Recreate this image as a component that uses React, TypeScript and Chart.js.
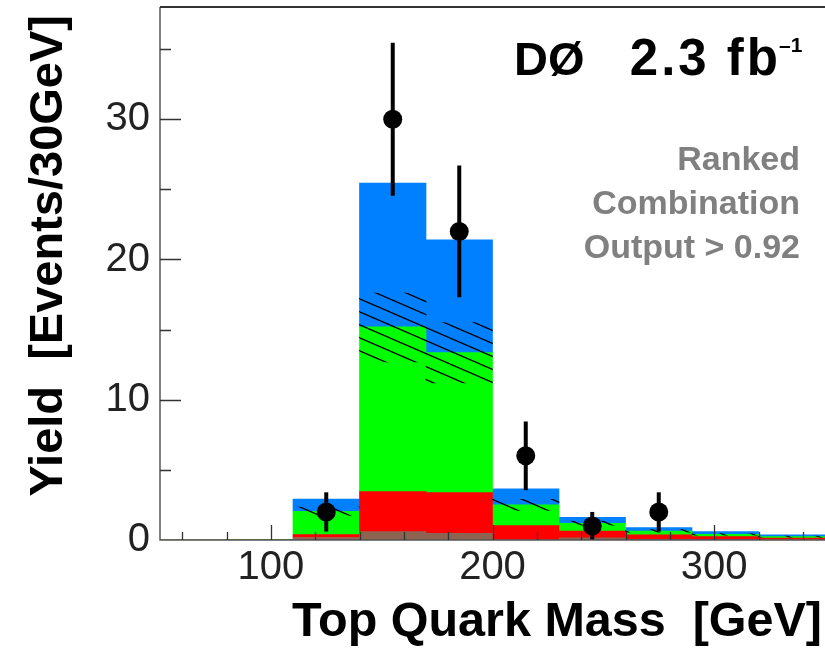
import React, { useEffect, useRef } from 'react';
import { Chart, registerables } from 'chart.js';

Chart.register(...registerables);

// Bin centres (30 GeV bins from 50 to 350 GeV)
const binCenters = [65, 95, 125, 155, 185, 215, 245, 275, 305, 335];
// Stacked components (per-layer heights), bottom to top
const otherBkg = [0, 0, 0.18, 0.6, 0.47, 0, 0.15, 0.04, 0.02, 0.01]; // brown
const wjetsBkg = [0, 0, 0.2, 2.85, 2.91, 1.02, 0.49, 0.32, 0.22, 0.13]; // red
const ttbarBkg = [0, 0.05, 1.67, 11.75, 9.98, 1.48, 0.55, 0.28, 0.16, 0.1]; // green
const signalMC = [0, 0, 0.87, 10.24, 8.04, 1.15, 0.43, 0.24, 0.2, 0.12]; // blue
// Hatched uncertainty band on the background sum
const bandCenters = [125, 155, 185, 215, 245, 275, 305, 335];
const bandLow = [1.75, 12.7, 11.2, 2.1, 1.05, 0.55, 0.35, 0.2];
const bandHigh = [2.35, 17.6, 15.5, 2.9, 1.35, 0.75, 0.45, 0.28];
// Observed data
const dataX = [125, 155, 185, 215, 245, 275];
const dataY = [2, 30, 22, 6, 1, 2];
const dataErrUp = [1.4, 5.45, 4.7, 2.45, 1.0, 1.4];
const dataErrDown = [1.4, 5.45, 4.7, 2.45, 1.0, 1.4];
// Axis ticks
const xMajorTicks = [100, 200, 300];
const xMinorTicks = [60, 80, 120, 140, 160, 180, 220, 240, 260, 280, 320, 340];
const yMajorTicks = [0, 10, 20, 30];
const yMinorTicks = [5, 15, 25, 35];

const FONT = "'Liberation Sans', Arial, Helvetica, sans-serif";

export default function App() {
  const ref = useRef<HTMLCanvasElement>(null);

  useEffect(() => {
    const canvas = ref.current!;
    const ctx = canvas.getContext('2d')!;

    // hatch pattern
    const pc = document.createElement('canvas');
    pc.width = 30;
    pc.height = 13;
    const g = pc.getContext('2d')!;
    g.strokeStyle = '#000';
    g.lineWidth = 1.3;
    for (const dy of [-13, 0, 13]) {
      g.beginPath();
      g.moveTo(0, dy);
      g.lineTo(30, dy + 13);
      g.stroke();
    }
    const pattern = ctx.createPattern(pc, 'repeat');

    const toXY = (vals: number[]) => binCenters.map((x, i) => ({ x, y: vals[i] }));
    const barCommon: any = {
      type: 'bar',
      stack: 'mc',
      grouped: false,
      barPercentage: 1,
      categoryPercentage: 1,
      borderWidth: 0,
      order: 2,
    };

    const framePlugin = {
      id: 'frame',
      afterDatasetsDraw(chart: any) {
        const c = chart.ctx;
        const { left, right, top, bottom } = chart.chartArea;
        const xs = chart.scales.x;
        const ys = chart.scales.y;
        c.save();
        // error bars
        c.beginPath();
        c.rect(left, top, right - left, bottom - top);
        c.clip();
        c.strokeStyle = '#000';
        c.lineWidth = 4;
        dataX.forEach((x, i) => {
          const px = xs.getPixelForValue(x);
          c.beginPath();
          c.moveTo(px, ys.getPixelForValue(dataY[i] + dataErrUp[i]));
          c.lineTo(px, ys.getPixelForValue(dataY[i] - dataErrDown[i]));
          c.stroke();
        });
        c.restore();

        c.save();
        // axes
        c.strokeStyle = '#555';
        c.lineWidth = 1.5;
        c.beginPath();
        c.moveTo(left, top);
        c.lineTo(left, bottom);
        c.lineTo(right, bottom);
        c.stroke();
        c.strokeStyle = '#333';
        c.lineWidth = 2;
        c.beginPath();
        c.moveTo(left, top);
        c.lineTo(right, top);
        c.stroke();
        // ticks
        c.strokeStyle = '#333';
        c.lineWidth = 1.3;
        c.beginPath();
        xMajorTicks.forEach((v) => {
          const px = Math.round(xs.getPixelForValue(v)) + 0.5;
          c.moveTo(px, bottom);
          c.lineTo(px, bottom - 15);
        });
        xMinorTicks.forEach((v) => {
          const px = Math.round(xs.getPixelForValue(v)) + 0.5;
          c.moveTo(px, bottom);
          c.lineTo(px, bottom - 8);
        });
        yMajorTicks.forEach((v) => {
          if (v === 0) return;
          const py = Math.round(ys.getPixelForValue(v)) + 0.5;
          c.moveTo(left, py);
          c.lineTo(left + 21, py);
        });
        yMinorTicks.forEach((v) => {
          const py = Math.round(ys.getPixelForValue(v)) + 0.5;
          c.moveTo(left, py);
          c.lineTo(left + 11, py);
        });
        c.stroke();
        c.restore();
      },
      afterDraw(chart: any) {
        const c = chart.ctx;
        c.save();
        c.fillStyle = '#000';
        c.textBaseline = 'alphabetic';
        // DØ label
        c.font = `bold 47px ${FONT}`;
        c.textAlign = 'left';
        c.fillText('D\u00D8', 514, 75);
        c.font = `bold 51px ${FONT}`;
        c.textAlign = 'right';
        (c as any).letterSpacing = '3px';
        c.fillText('2.3 fb', 781, 75);
        (c as any).letterSpacing = '0px';
        c.font = `bold 21px ${FONT}`;
        c.textAlign = 'left';
        c.fillText('\u20131', 779, 52);
        // Ranked combination text
        c.textAlign = 'right';
        c.fillStyle = '#808080';
        c.font = `bold 34px ${FONT}`;
        c.fillText('Ranked', 800, 170);
        c.fillText('Combination', 800, 214);
        c.fillText('Output > 0.92', 800, 258);
        // X title
        c.fillStyle = '#000';
        c.font = `bold 48.5px ${FONT}`;
        c.fillText('Top Quark Mass  [GeV]', 822, 636);
        // Y title
        c.font = `bold 47px ${FONT}`;
        c.translate(62, 15);
        c.rotate(-Math.PI / 2);
        c.textAlign = 'right';
        c.fillText('Yield  [Events/30GeV]', 0, 0);
        c.restore();
      },
    };

    const chart = new Chart(ctx, {
      type: 'bar',
      data: {
        datasets: [
          { ...barCommon, label: 'Other', data: toXY(otherBkg), backgroundColor: '#8c6450' },
          { ...barCommon, label: 'W+jets', data: toXY(wjetsBkg), backgroundColor: '#ff0000' },
          { ...barCommon, label: 'ttbar', data: toXY(ttbarBkg), backgroundColor: '#00ff00' },
          { ...barCommon, label: 'Signal', data: toXY(signalMC), backgroundColor: '#0080ff' },
          {
            type: 'bar',
            label: 'Uncertainty',
            stack: 'band',
            grouped: false,
            barPercentage: 1,
            categoryPercentage: 1,
            borderWidth: 0,
            order: 1,
            data: bandCenters.map((x, i) => ({ x, y: [bandLow[i], bandHigh[i]] })),
            backgroundColor: pattern as any,
          },
          {
            type: 'scatter',
            label: 'Data',
            stack: 'data',
            order: 0,
            data: dataX.map((x, i) => ({ x, y: dataY[i] })),
            pointRadius: 9.5,
            pointBackgroundColor: '#000',
            pointBorderWidth: 0,
            backgroundColor: '#000',
            borderColor: '#000',
          },
        ] as any,
      },
      options: {
        responsive: false,
        animation: false,
        devicePixelRatio: 1,
        layout: { autoPadding: false, padding: { top: 7, right: 0, left: 0, bottom: 0 } },
        plugins: {
          legend: { display: false },
          tooltip: { enabled: false },
        },
        scales: {
          x: {
            type: 'linear',
            min: 50,
            max: 350,
            stacked: true,
            offset: false,
            grid: { display: false, drawTicks: false },
            border: { display: false },
            ticks: {
              autoSkip: false,
              maxRotation: 0,
              padding: 4,
              color: '#222',
              font: { family: FONT, size: 40 },
            },
            afterBuildTicks: (s: any) => {
              s.ticks = xMajorTicks.map((v) => ({ value: v }));
            },
            afterFit: (s: any) => {
              s.height = 115;
              s.paddingLeft = 0;
              s.paddingRight = 0;
            },
          },
          y: {
            min: 0,
            max: 38,
            stacked: true,
            grid: { display: false, drawTicks: false },
            border: { display: false },
            ticks: {
              padding: 10,
              color: '#222',
              font: { family: FONT, size: 40 },
            },
            afterBuildTicks: (s: any) => {
              s.ticks = yMajorTicks.map((v) => ({ value: v }));
            },
            afterFit: (s: any) => {
              s.width = 160;
              s.paddingTop = 0;
              s.paddingBottom = 0;
            },
          },
        },
      } as any,
      plugins: [framePlugin],
    });
    return () => chart.destroy();
  }, []);

  return (
    <div style={{ position: 'fixed', left: 0, top: 0, width: 825, height: 655, background: '#fff' }}>
      <canvas ref={ref} width={825} height={655} style={{ display: 'block' }} />
    </div>
  );
}
